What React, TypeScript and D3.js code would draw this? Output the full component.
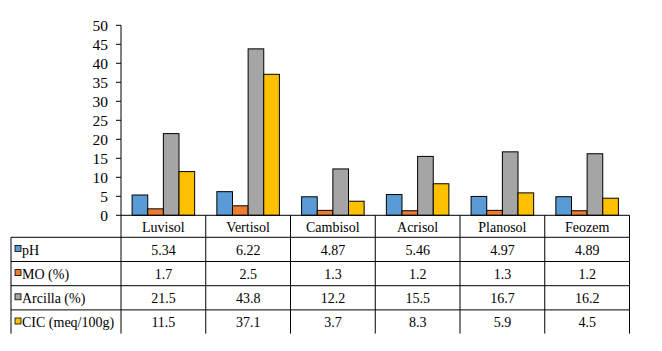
import React from 'react';
import * as d3 from 'd3';

const categories = ['Luvisol', 'Vertisol', 'Cambisol', 'Acrisol', 'Planosol', 'Feozem'];
const seriesNames = ['pH', 'MO (%)', 'Arcilla (%)', 'CIC (meq/100g)'];
const seriesColors = ['#5B9BD5', '#ED7D31', '#A5A5A5', '#FFC000'];
const phValues = [5.34, 6.22, 4.87, 5.46, 4.97, 4.89];
const moValues = [1.7, 2.5, 1.3, 1.2, 1.3, 1.2];
const arcillaValues = [21.5, 43.8, 12.2, 15.5, 16.7, 16.2];
const cicValues = [11.5, 37.1, 3.7, 8.3, 5.9, 4.5];
const yTicks = [0, 5, 10, 15, 20, 25, 30, 35, 40, 45, 50];

const seriesValues = [phValues, moValues, arcillaValues, cicValues];

const width = 662;
const height = 351;
const left = 121;
const right = 629.5;
const top = 25.3;
const base = 215.3;
const tableLeft = 11;
const headerBottom = 237.3;
const rowH = 24.2;
const font = "'Liberation Serif', 'DejaVu Serif', serif";

const App = () => {
  const x0 = d3.scaleBand().domain(categories).range([left, right]);
  const x1 = d3.scaleBand().domain(seriesNames).range([0, x0.bandwidth()]).paddingOuter(0.71);
  const y = d3.scaleLinear().domain([0, 50]).range([base, top]);
  const tableBottom = headerBottom + rowH * seriesNames.length - 0.5;
  const txt = { fontFamily: font };

  return (
    <svg width={width} height={height} style={{ position: 'absolute', left: 0, top: 0, background: '#fff', fontFamily: font }}>
      {/* bars */}
      {seriesNames.map((s, si) => (
        <g key={s}>
          {categories.map((c, ci) => (
            <rect key={c}
              x={x0(c)! + x1(s)!}
              y={y(seriesValues[si][ci])}
              width={x1.bandwidth()}
              height={base - y(seriesValues[si][ci])}
              fill={seriesColors[si]} stroke="#000" strokeWidth={1} />
          ))}
        </g>
      ))}

      {/* y axis */}
      <line x1={left} x2={left} y1={top} y2={tableBottom} stroke="#000" />
      {yTicks.map(t => (
        <g key={t}>
          <line x1={left - 5} x2={left} y1={y(t)} y2={y(t)} stroke="#000" />
          <text x={108} y={y(t)} dy="0.34em" textAnchor="end" fontSize={15.5} style={txt}>{t}</text>
        </g>
      ))}

      {/* table grid */}
      <line x1={left} x2={right} y1={base} y2={base} stroke="#000" />
      {seriesNames.map((s, i) => (
        <line key={s} x1={tableLeft} x2={right} y1={headerBottom + rowH * i} y2={headerBottom + rowH * i} stroke="#000" />
      ))}
      <line x1={tableLeft} x2={tableLeft} y1={headerBottom} y2={tableBottom} stroke="#000" />
      {categories.map(c => (
        <line key={c} x1={x0(c)! + x0.bandwidth()} x2={x0(c)! + x0.bandwidth()} y1={base} y2={tableBottom} stroke="#000" />
      ))}

      {/* header */}
      {categories.map(c => (
        <text key={c} x={x0(c)! + x0.bandwidth() / 2} y={232} textAnchor="middle" fontSize={14} style={txt}>{c}</text>
      ))}

      {/* rows */}
      {seriesNames.map((s, si) => {
        const yb = headerBottom + rowH * (si + 1) - 6.8;
        const yc = headerBottom + rowH * si + rowH / 2;
        return (
          <g key={s}>
            <rect x={15} y={yc - 4} width={6} height={6} fill={seriesColors[si]} stroke="#000" strokeWidth={0.8} />
            <text x={22} y={yb} fontSize={14} style={txt}>{s}</text>
            {categories.map((c, ci) => (
              <text key={c} x={x0(c)! + x0.bandwidth() / 2} y={yb} textAnchor="middle" fontSize={14} style={txt}>
                {seriesValues[si][ci]}
              </text>
            ))}
          </g>
        );
      })}
    </svg>
  );
};

export default App;
